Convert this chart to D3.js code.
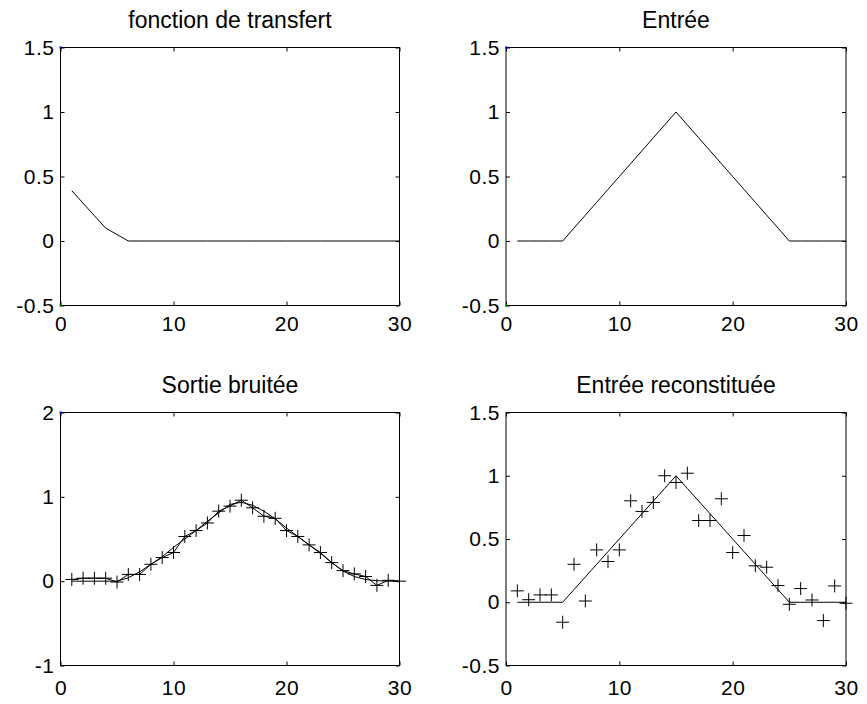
<!DOCTYPE html>
<html>
<head>
<meta charset="utf-8">
<script src="https://cdn.jsdelivr.net/npm/d3@7"></script>
<style>
  body { margin: 0; background: #fff; }
  svg { display: block; font-family: "Liberation Sans", Arial, Helvetica, sans-serif; }
  .tick text { font-size: 21px; fill: #000; letter-spacing: 0.5px; }
  .title { font-size: 23px; fill: #000; }
</style>
</head>
<body>
<div id="figure"></div>
<script>
// Data
var xIndex = [1, 2, 3, 4, 5, 6, 7, 8, 9, 10, 11, 12, 13, 14, 15,
              16, 17, 18, 19, 20, 21, 22, 23, 24, 25, 26, 27, 28, 29, 30];

var transfert = [0.39, 0.293, 0.196, 0.1, 0.05, 0, 0, 0, 0, 0, 0, 0, 0, 0, 0,
                 0, 0, 0, 0, 0, 0, 0, 0, 0, 0, 0, 0, 0, 0, 0];

var entree = [0, 0, 0, 0, 0, 0.1, 0.2, 0.3, 0.4, 0.5, 0.6, 0.7, 0.8, 0.9, 1,
              0.9, 0.8, 0.7, 0.6, 0.5, 0.4, 0.3, 0.2, 0.1, 0, 0, 0, 0, 0, 0];

var sortie = [0, 0, 0, 0, 0, 0.04, 0.11, 0.2, 0.29, 0.4, 0.5, 0.6, 0.71, 0.81, 0.91,
              0.935, 0.9, 0.83, 0.74, 0.63, 0.53, 0.43, 0.33, 0.22, 0.12, 0.055, 0.02, 0.005, 0, 0];

var sortieBruitee = [0.02, 0.035, 0.035, 0.035, -0.01, 0.08, 0.08, 0.2, 0.28, 0.34, 0.53, 0.6, 0.69, 0.83, 0.89,
                     0.96, 0.87, 0.77, 0.745, 0.6, 0.53, 0.43, 0.34, 0.22, 0.125, 0.086, 0.055, -0.05, 0.01, 0];

var reconstituee = [0.09, 0.02, 0.058, 0.058, -0.158, 0.3, 0.01, 0.414, 0.322, 0.414, 0.802, 0.718, 0.789, 1.0, 0.947,
                    1.02, 0.646, 0.646, 0.818, 0.393, 0.528, 0.288, 0.277, 0.132, -0.016, 0.108, 0.018, -0.145, 0.129, -0.008];

var xTicks = [0, 10, 20, 30];
var yTicksA = [-0.5, 0, 0.5, 1, 1.5];
var yTicksB = [-1, 0, 1, 2];

var svgWidth = 867;
var svgHeight = 704;

var svg = d3.select("#figure").append("svg")
    .attr("width", svgWidth)
    .attr("height", svgHeight);

svg.append("rect").attr("width", svgWidth).attr("height", svgHeight).attr("fill", "#fff");

// panel boxes
var panels = [
  { left: 60.5, top: 47.5, width: 339, height: 258, yDomain: [-0.5, 1.5], yTicks: yTicksA,
    title: "fonction de transfert", lines: [transfert], plus: [], dots: true, labelPad: 11 },
  { left: 506, top: 47.5, width: 340, height: 258, yDomain: [-0.5, 1.5], yTicks: yTicksA,
    title: "Entrée", lines: [entree], plus: [], dots: true, labelPad: 11 },
  { left: 60.5, top: 412.5, width: 339, height: 253, yDomain: [-1, 2], yTicks: yTicksB,
    title: "Sortie bruitée", lines: [sortie, sortieBruitee], plus: [sortieBruitee], dots: "top", labelPad: 15 },
  { left: 506, top: 412.5, width: 340, height: 253, yDomain: [-0.5, 1.5], yTicks: yTicksA,
    title: "Entrée reconstituée", lines: [entree], plus: [reconstituee], dots: false, labelPad: 15 }
];

var fmt = function(d) { return String(d); };

panels.forEach(function(p) {
  var g = svg.append("g").attr("transform", `translate(${p.left}, ${p.top})`);

  var x = d3.scaleLinear().domain([0, 30]).range([0, p.width]);
  var y = d3.scaleLinear().domain(p.yDomain).range([p.height, 0]);

  // ticks on all four sides, pointing inward
  g.append("g")
      .attr("transform", `translate(0, ${p.height})`)
      .call(d3.axisBottom(x).tickValues(xTicks).tickFormat(fmt).tickSizeInner(-4).tickSizeOuter(0).tickPadding(p.labelPad))
      .call(a => a.select(".domain").remove());
  g.append("g")
      .call(d3.axisLeft(y).tickValues(p.yTicks).tickFormat(fmt).tickSizeInner(-4).tickSizeOuter(0).tickPadding(6))
      .call(a => a.select(".domain").remove());
  g.append("g")
      .call(d3.axisTop(x).tickValues(xTicks).tickFormat("").tickSizeInner(-4).tickSizeOuter(0))
      .call(a => a.select(".domain").remove());
  g.append("g")
      .attr("transform", `translate(${p.width}, 0)`)
      .call(d3.axisRight(y).tickValues(p.yTicks).tickFormat("").tickSizeInner(-4).tickSizeOuter(0))
      .call(a => a.select(".domain").remove());

  g.selectAll(".tick line").attr("stroke", "#000");
  g.selectAll(".tick text").attr("fill", "#000");

  g.append("rect")
      .attr("width", p.width)
      .attr("height", p.height)
      .attr("fill", "none")
      .attr("stroke", "#000")
      .attr("stroke-width", 1);

  var line = d3.line()
      .x((d, i) => x(xIndex[i]))
      .y(d => y(d));

  p.lines.forEach(function(vals) {
    g.append("path")
        .datum(vals)
        .attr("d", line)
        .attr("fill", "none")
        .attr("stroke", "#000")
        .attr("stroke-width", 1);
  });

  p.plus.forEach(function(vals) {
    g.selectAll(null)
        .data(vals)
        .enter()
        .append("path")
        .attr("transform", (d, i) => `translate(${x(xIndex[i])}, ${y(d)})`)
        .attr("d", "M-6.5,0H6.5M0,-6.5V6.5")
        .attr("fill", "none")
        .attr("stroke", "#000")
        .attr("stroke-width", 1);
  });

  // small coloured points left at the axis limits
  if (p.dots) {
    g.append("rect").attr("x", -1).attr("y", -1).attr("width", 2.5).attr("height", 2).attr("fill", "#0000ff");
    if (p.dots === true) {
      g.append("rect").attr("x", -1).attr("y", p.height - 1).attr("width", 2.5).attr("height", 2).attr("fill", "#008000");
    }
  }

  g.append("text")
      .attr("class", "title")
      .attr("x", p.width / 2)
      .attr("y", -20)
      .attr("text-anchor", "middle")
      .text(p.title);
});
</script>
</body>
</html>
